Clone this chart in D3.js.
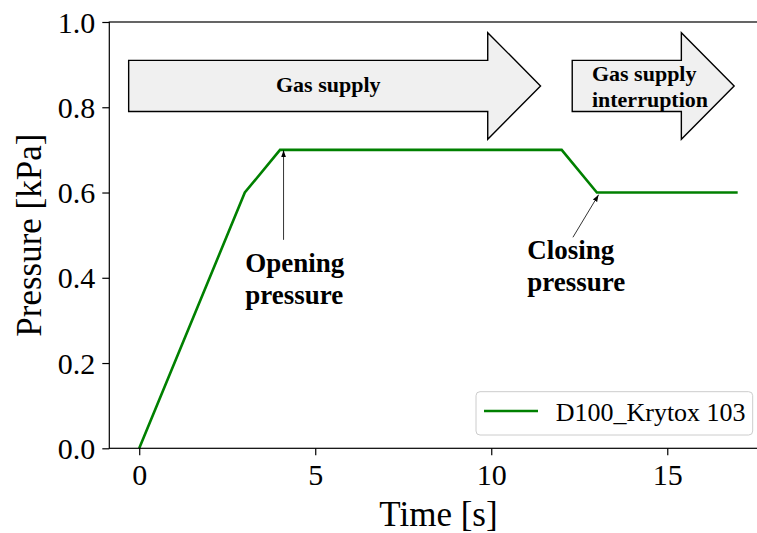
<!DOCTYPE html>
<html>
<head>
<meta charset="utf-8">
<script src="https://cdn.jsdelivr.net/npm/d3@7"></script>
<style>
  html, body { margin: 0; padding: 0; background: #fff; }
  svg { display: block; }
  text { font-family: "Liberation Serif", "DejaVu Serif", serif; }
</style>
</head>
<body>
<svg id="chart" width="757" height="533"></svg>
<script>
// Pressure trace of D100 with Krytox 103
const timeS = [0, 3, 4, 12, 13, 17];
const pressureKPa = [0, 0.6, 0.7, 0.7, 0.6, 0.6];
const seriesName = "D100_Krytox 103";

const xTicks = [0, 5, 10, 15];
const yTicks = [0.0, 0.2, 0.4, 0.6, 0.8, 1.0];

// Phase arrows: label lines, start time and tip time
const phaseLabels = [["Gas supply"], ["Gas supply", "interruption"]];
const phaseStart = [-0.3, 12.3];
const phaseTip = [11.4, 16.9];

const svg = d3.select("#chart");

const x = d3.scaleLinear().domain([-0.85, 17.85]).range([109.3, 767.6]);
const y = d3.scaleLinear().domain([0, 1]).range([448.3, 22]);

const g = svg.append("g");

// data line
const line = d3.line().x((d, i) => x(timeS[i])).y(d => y(d));
g.append("path")
  .datum(pressureKPa)
  .attr("d", line)
  .attr("fill", "none")
  .attr("stroke", "#008000")
  .attr("stroke-width", 2.6)
  .attr("stroke-linejoin", "miter");

// big block arrows showing the gas phases
const arrowY = 0.85, bodyHalf = 0.06, headHalf = 0.125, headLen = 1.5;
phaseStart.forEach((x0, i) => {
  const x1 = phaseTip[i];
  const xb = x1 - headLen;
  const pts = [
    [x(x0), y(arrowY + bodyHalf)],
    [x(xb), y(arrowY + bodyHalf)],
    [x(xb), y(arrowY + headHalf)],
    [x(x1), y(arrowY)],
    [x(xb), y(arrowY - headHalf)],
    [x(xb), y(arrowY - bodyHalf)],
    [x(x0), y(arrowY - bodyHalf)]
  ];
  g.append("path")
    .attr("d", "M" + pts.map(p => p.join(",")).join("L") + "Z")
    .attr("fill", "#f0f0f0")
    .attr("stroke", "#000")
    .attr("stroke-width", 1.4)
    .attr("stroke-linejoin", "miter");
});

// phase labels
g.append("text")
  .attr("x", x(5.37)).attr("y", y(0.836))
  .attr("text-anchor", "middle")
  .attr("font-weight", "bold")
  .attr("font-size", 22)
  .text(phaseLabels[0][0]);

const t2 = g.append("text")
  .attr("font-weight", "bold")
  .attr("font-size", 22);
phaseLabels[1].forEach((s, i) => {
  t2.append("tspan")
    .attr("x", x(12.86))
    .attr("y", y(0.861) + i * 25.8)
    .text(s);
});

// annotation arrows with small filled heads
svg.append("defs").append("marker")
  .attr("id", "head")
  .attr("viewBox", "0 0 10 10")
  .attr("refX", 10).attr("refY", 5)
  .attr("markerWidth", 7).attr("markerHeight", 7)
  .attr("markerUnits", "userSpaceOnUse")
  .attr("orient", "auto")
  .append("path")
  .attr("d", "M0,1.5L10,5L0,8.5Z")
  .attr("fill", "#000");

const notes = [
  { lines: ["Opening", "pressure"], tx: 3.01, ty: 0.414, from: [4.1, 0.489], to: [4.1, 0.699] },
  { lines: ["Closing", "pressure"], tx: 11.02, ty: 0.444, from: [12.32, 0.495], to: [13.05, 0.595] }
];
notes.forEach(n => {
  g.append("line")
    .attr("x1", x(n.from[0])).attr("y1", y(n.from[1]))
    .attr("x2", x(n.to[0])).attr("y2", y(n.to[1]))
    .attr("stroke", "#000")
    .attr("stroke-width", 0.8)
    .attr("marker-end", "url(#head)");
  const t = g.append("text")
    .attr("font-weight", "bold")
    .attr("font-size", 27);
  n.lines.forEach((s, i) => {
    t.append("tspan").attr("x", x(n.tx)).attr("y", y(n.ty) + i * 32.4).text(s);
  });
});

// axes
const xAxis = d3.axisBottom(x).tickValues(xTicks).tickFormat(d3.format("d"))
  .tickSize(7).tickPadding(8);
const yAxis = d3.axisLeft(y).tickValues(yTicks).tickFormat(d3.format(".1f"))
  .tickSize(7).tickPadding(7);

const gx = svg.append("g").attr("transform", `translate(0,${y(0)})`).call(xAxis);
const gy = svg.append("g").attr("transform", `translate(${x.range()[0]},0)`).call(yAxis);
[gx, gy].forEach(a => {
  a.select(".domain").remove();
  a.selectAll(".tick line").attr("stroke", "#000").attr("stroke-width", 1.2);
  a.selectAll(".tick text")
    .attr("font-family", "Liberation Serif, serif")
    .attr("font-size", 30)
    .attr("fill", "#000");
});
gy.selectAll(".tick text").attr("dy", "0.34em");
gx.selectAll(".tick text").attr("dy", "0.74em");

// spines
const [xl, xr] = x.range();
const [yb, yt] = y.range();
svg.append("rect")
  .attr("x", xl).attr("y", yt)
  .attr("width", xr - xl).attr("height", yb - yt)
  .attr("fill", "none").attr("stroke", "#000").attr("stroke-width", 1.2);

// axis titles
svg.append("text")
  .attr("x", (xl + xr) / 2).attr("y", 526)
  .attr("text-anchor", "middle")
  .attr("font-size", 35)
  .text("Time [s]");
svg.append("text")
  .attr("transform", `translate(41,${(yb + yt) / 2}) rotate(-90)`)
  .attr("text-anchor", "middle")
  .attr("font-size", 35)
  .text("Pressure [kPa]");

// legend
const lg = svg.append("g");
lg.append("rect")
  .attr("x", 476).attr("y", 391.7)
  .attr("width", 276.7).attr("height", 43.3)
  .attr("rx", 4)
  .attr("fill", "#fff").attr("fill-opacity", 0.8)
  .attr("stroke", "#cccccc").attr("stroke-width", 1);
lg.append("line")
  .attr("x1", 484).attr("x2", 538).attr("y1", 411).attr("y2", 411)
  .attr("stroke", "#008000").attr("stroke-width", 2.6);
lg.append("text")
  .attr("x", 555.7).attr("y", 421)
  .attr("font-size", 26)
  .text(seriesName);
</script>
</body>
</html>
